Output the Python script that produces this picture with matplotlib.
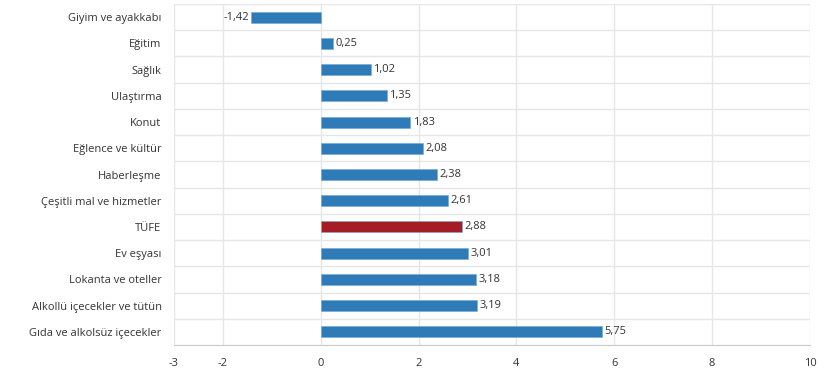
import numpy as np
import matplotlib.pyplot as plt
from matplotlib.ticker import FixedLocator

categories = ["Giyim ve ayakkabı", "Eğitim", "Sağlık", "Ulaştırma", "Konut",
              "Eğlence ve kültür", "Haberleşme", "Çeşitli mal ve hizmetler",
              "TÜFE", "Ev eşyası", "Lokanta ve oteller",
              "Alkollü içecekler ve tütün", "Gıda ve alkolsüz içecekler"]
values = [-1.42, 0.25, 1.02, 1.35, 1.83, 2.08, 2.38, 2.61, 2.88, 3.01, 3.18, 3.19, 5.75]
xticks = [-3, -2, 0, 2, 4, 6, 8, 10]

plt.rcParams['font.family'] = ['Open Sans', 'DejaVu Sans']

fig = plt.figure(figsize=(8.32, 3.8), dpi=100)
ax = fig.add_axes([174 / 832, 1 - 345 / 380, (810 - 174) / 832, (345 - 4) / 380])

n = len(categories)
y = np.arange(n)
colors = ["#a51d24" if c == "TÜFE" else "#2f7bb8" for c in categories]
ax.barh(y, values, height=0.42, color=colors, edgecolor="#6fa8d6", linewidth=0.4, zorder=3)

for yi, v in zip(y, values):
    txt = f"{v:.2f}".replace(".", ",")
    if v < 0:
        ax.text(v - 0.05, yi, txt, ha="right", va="center", fontsize=8, color="#333333", zorder=4)
    else:
        ax.text(v + 0.05, yi, txt, ha="left", va="center", fontsize=8, color="#333333", zorder=4)

ax.set_xlim(-3, 10)
ax.set_ylim(n - 0.5, -0.5)
ax.set_xticks(xticks)
ax.set_xticklabels([str(t) for t in xticks], fontsize=8, color="#333333")
ax.set_yticks(y)
ax.set_yticklabels(categories, fontsize=8, color="#333333")
ax.yaxis.set_minor_locator(FixedLocator(np.arange(-0.5, n, 1)))

ax.grid(axis="x", color="#e6e6e6", linewidth=1, zorder=0)
ax.grid(axis="y", which="minor", color="#e6e6e6", linewidth=1, zorder=0)
ax.tick_params(axis="both", which="both", length=0)
ax.tick_params(axis="x", pad=9)
ax.tick_params(axis="y", pad=9)

for s in ["top", "right", "left"]:
    ax.spines[s].set_visible(False)
ax.spines["bottom"].set_color("#cccccc")

fig.savefig("out.png", dpi=100)
